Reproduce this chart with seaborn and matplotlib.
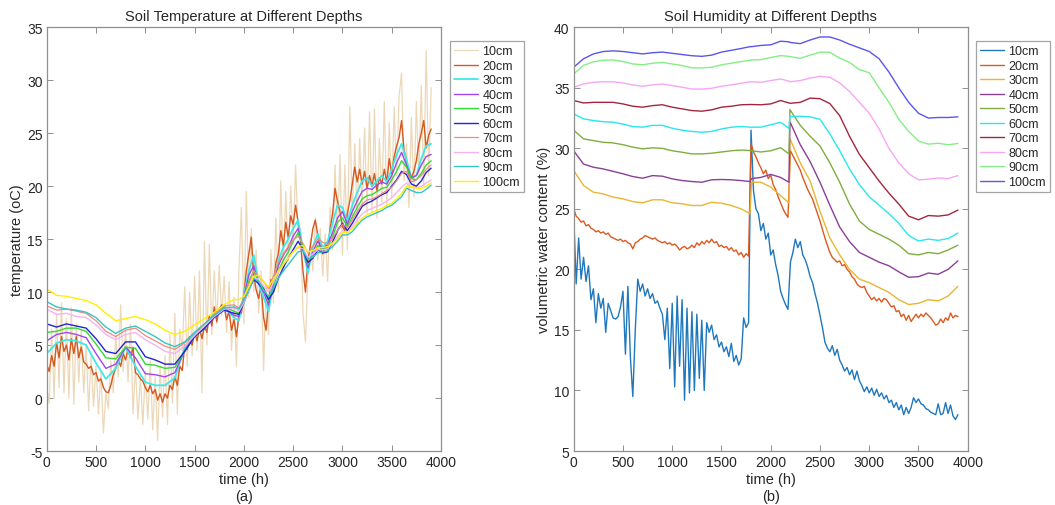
import numpy as np
import matplotlib
matplotlib.use("Agg")
import matplotlib.pyplot as plt
import seaborn as sns

# ---------------------------------------------------------------- data
depths = ["10cm", "20cm", "30cm", "40cm", "50cm", "60cm", "70cm", "80cm", "90cm", "100cm"]

# sampling times (h)
t_fine = np.arange(0, 3901, 25)                       # shallow, noisy sensors
t_temp = np.concatenate([np.arange(0, 1900, 100), np.arange(1900, 3901, 50)])
t_hum = [0, 100, 200, 300, 400, 500, 600, 700, 800, 900, 1000, 1100, 1200, 1300,
         1400, 1500, 1600, 1700, 1790, 1805, 1900, 2000, 2100, 2185, 2195, 2300,
         2400, 2500, 2600, 2700, 2800, 2900, 3000, 3100, 3200, 3300, 3400, 3500,
         3600, 3700, 3800, 3900]

# soil temperature (oC)
temp_10 = [1.0, -0.5, 6.5, 0.0, 8.0, 1.0, 9.0, 0.5,
           7.5, 0.0, 8.5, -0.6, 7.0, 1.5, 6.5, 0.5,
           5.0, -1.2, 4.0, -0.8, 3.0, -1.5, 2.5, -3.3,
           0.5, -1.0, 3.5, 0.5, 6.0, 2.0, 8.8, 2.5,
           6.5, 1.5, 7.0, -1.5, 3.0, -2.0, 2.0, -2.5,
           2.5, -2.0, 3.5, -3.0, 2.0, -4.0, 3.0, -1.8,
           4.0, -2.5, 6.0, -0.5, 8.0, -1.5, 6.5, 4.5,
           10.5, 3.0, 10.0, 4.0, 11.5, 4.5, 12.0, 0.5,
           14.8, 5.0, 14.5, 6.0, 12.0, 7.0, 12.5, 7.8,
           11.5, 6.2, 11.0, 4.5, 9.5, 3.0, 12.0, 18.0,
           7.0, 19.5, 9.5, 16.0, 10.0, 14.0, 8.0, 12.0,
           2.6, 10.5, 6.0, 14.0, 9.0, 17.0, 10.0, 20.5,
           12.0, 19.5, 13.0, 20.0, 14.5, 22.0, 15.5, 16.0,
           8.0, 5.3, 11.5, 15.0, 12.0, 17.0, 13.0, 16.0,
           11.5, 15.5, 11.0, 18.0, 14.0, 22.0, 15.0, 23.0,
           13.5, 22.0, 14.0, 27.5, 17.0, 24.0, 16.5, 24.5,
           18.0, 25.5, 17.5, 27.0, 17.5, 27.3, 17.0, 24.5,
           18.5, 28.0, 18.0, 26.0, 19.0, 27.5, 21.0, 28.5,
           30.7, 20.5, 24.0, 18.0, 26.5, 19.0, 28.0, 21.0,
           29.5, 20.0, 32.8, 21.0, 29.3]
temp_20 = [3.2, 2.5, 4.0, 3.0, 5.2, 3.8, 5.8, 4.4,
           5.0, 3.6, 5.6, 4.2, 5.8, 3.8, 4.8, 3.4,
           3.2, 2.8, 3.0, 2.2, 2.4, 1.6, 1.8, 1.0,
           0.6, 0.5, 1.2, 2.2, 2.8, 3.6, 3.0, 4.2,
           3.6, 4.6, 3.8, 4.8, 2.4, 2.2, 1.8, 1.6,
           1.0, 0.6, 1.2, 0.4, 0.8, -0.2, 0.4, -0.4,
           0.4, 0.0, 1.2, 0.8, 2.0, 1.2, 3.0, 2.6,
           5.0, 4.6, 5.8, 5.0, 6.2, 5.4, 6.6, 5.6,
           6.8, 6.2, 7.8, 6.8, 8.6, 7.2, 8.4, 8.8,
           8.6, 7.4, 8.2, 6.4, 7.4, 5.8, 7.8, 8.0,
           9.8, 12.0, 13.6, 15.2, 11.6, 10.2, 9.4, 10.6,
           7.6, 6.4, 9.0, 11.2, 10.0, 12.8, 13.6, 15.8,
           14.4, 16.6, 15.2, 17.2, 16.4, 18.2, 16.6, 14.8,
           12.0, 10.0, 13.0, 14.4, 16.0, 16.8, 15.4, 14.2,
           13.6, 14.4, 14.0, 16.0, 17.4, 19.8, 18.6, 17.6,
           16.2, 15.8, 17.4, 18.6, 20.2, 21.8, 20.4, 21.6,
           20.2, 21.4, 19.8, 21.0, 20.0, 21.2, 19.6, 20.8,
           20.2, 21.6, 20.4, 22.6, 21.2, 22.8, 23.8, 24.6,
           26.2, 23.4, 22.4, 21.0, 20.8, 21.4, 22.4, 24.0,
           25.0, 26.2, 23.6, 24.8, 25.4]
temp_30 = [4.2, 5.2, 5.5, 5.4, 5.0, 3.3, 1.8, 2.8, 4.8, 3.0, 1.5, 1.2, 1.2, 1.9, 4.8, 6.0, 6.6, 8.0, 8.6,
           7.6, 7.3, 9.8, 12.0, 13.5, 10.8, 9.5, 8.2, 10.8, 13.0, 14.2, 15.0, 16.0, 16.8, 14.0, 11.8,
           14.3, 15.5, 14.2, 14.8, 16.5, 18.2, 18.0, 16.6, 18.2, 19.4, 20.5, 20.8, 20.0, 20.5, 21.0,
           20.4, 21.6, 23.0, 24.0, 22.5, 20.8, 21.0, 22.6, 23.8, 24.0]
temp_40 = [5.4, 6.0, 6.2, 6.0, 5.7, 4.2, 2.8, 3.2, 4.8, 3.8, 2.3, 2.2, 2.0, 2.4, 4.5, 5.9, 6.5, 7.8, 8.5,
           7.8, 7.7, 9.5, 11.6, 12.5, 10.8, 10.0, 8.8, 10.8, 12.5, 13.5, 14.2, 15.3, 16.0, 14.0, 12.3,
           13.8, 14.8, 14.0, 14.5, 15.6, 17.0, 17.6, 16.4, 17.6, 18.6, 19.5, 19.8, 19.7, 20.1, 20.4,
           20.2, 21.0, 22.2, 23.2, 22.0, 20.8, 21.0, 22.0, 22.8, 23.0]
temp_50 = [6.2, 6.3, 6.6, 6.6, 6.3, 5.1, 3.8, 3.7, 4.8, 4.7, 3.2, 3.1, 2.8, 2.9, 4.4, 5.8, 6.6, 7.8, 8.6,
           8.2, 8.0, 9.3, 11.0, 12.0, 11.0, 10.4, 9.2, 10.5, 12.0, 13.0, 13.8, 14.8, 15.6, 14.2, 12.6,
           13.5, 14.4, 14.0, 14.2, 15.2, 16.6, 17.0, 16.2, 17.1, 18.0, 18.8, 19.1, 19.2, 19.5, 19.8,
           19.9, 20.6, 21.4, 22.4, 21.8, 20.7, 20.6, 21.2, 22.0, 22.4]
temp_60 = [7.0, 6.7, 7.0, 6.8, 6.6, 5.6, 4.4, 4.2, 5.3, 5.3, 3.9, 3.6, 3.2, 3.2, 4.4, 5.8, 6.6, 7.6, 8.3,
           8.0, 7.9, 9.0, 10.2, 11.2, 10.8, 10.3, 9.3, 10.0, 11.3, 12.3, 13.2, 14.0, 14.8, 14.0, 12.8,
           13.2, 14.0, 13.7, 13.8, 14.7, 15.8, 16.5, 15.8, 16.5, 17.3, 18.1, 18.4, 18.6, 18.9, 19.2,
           19.4, 20.0, 20.6, 21.4, 21.1, 20.2, 20.0, 20.5, 21.3, 21.7]
temp_70 = [8.7, 8.3, 8.4, 8.2, 8.0, 7.3, 6.3, 5.8, 6.4, 6.6, 5.9, 5.4, 4.9, 4.6, 5.2, 6.1, 7.0, 7.9, 8.7,
           8.8, 8.5, 9.4, 10.8, 12.0, 11.5, 11.0, 10.3, 11.5, 12.8, 13.6, 14.3, 14.9, 15.3, 14.6, 13.7,
           14.3, 15.0, 14.7, 14.5, 15.1, 15.8, 16.4, 16.1, 16.8, 17.6, 18.3, 18.7, 18.8, 19.0, 19.3,
           19.6, 19.9, 20.5, 21.2, 21.4, 20.4, 20.6, 21.0, 21.6, 22.0]
temp_80 = [8.4, 7.9, 8.0, 7.7, 7.6, 6.9, 6.0, 5.5, 6.0, 6.2, 5.5, 5.0, 4.4, 4.2, 4.9, 5.9, 6.8, 7.7, 8.4,
           8.5, 8.2, 9.0, 10.2, 11.4, 11.2, 10.6, 10.0, 10.9, 11.9, 12.6, 13.2, 13.8, 14.2, 14.1, 13.3,
           13.6, 14.0, 14.0, 14.1, 14.6, 15.2, 15.8, 15.6, 16.2, 16.8, 17.4, 17.7, 17.9, 18.1, 18.3,
           18.6, 18.9, 19.4, 19.9, 20.3, 19.9, 19.8, 20.0, 20.3, 20.6]
temp_90 = [9.1, 8.6, 8.4, 8.3, 8.1, 7.6, 6.7, 6.1, 6.6, 6.8, 6.3, 5.8, 5.2, 4.85, 5.3, 6.2, 7.0, 7.8, 8.5,
           8.6, 8.4, 9.2, 10.2, 11.3, 11.0, 10.2, 9.6, 10.4, 11.3, 12.0, 12.6, 13.2, 13.8, 13.9, 13.1,
           13.3, 13.7, 13.8, 13.9, 14.3, 14.8, 15.4, 15.4, 15.7, 16.3, 16.8, 17.1, 17.3, 17.5, 17.7,
           18.0, 18.2, 18.6, 19.0, 19.8, 19.6, 19.4, 19.4, 19.7, 20.1]
temp_100 = [10.3, 9.7, 9.6, 9.4, 9.2, 8.8, 8.0, 7.3, 7.5, 7.7, 7.4, 7.0, 6.4, 6.0, 6.3, 6.9, 7.5, 8.1, 8.8,
            9.3, 9.3, 9.6, 10.5, 11.5, 11.6, 11.0, 10.5, 11.2, 12.0, 12.6, 13.2, 13.8, 14.3, 14.4, 13.8,
            13.9, 14.2, 14.2, 14.3, 14.6, 15.0, 15.7, 15.6, 16.0, 16.5, 17.0, 17.3, 17.5, 17.7, 17.9,
            18.2, 18.4, 18.8, 19.3, 20.0, 20.0, 19.8, 19.8, 20.0, 20.3]

# volumetric water content (%)
hum_10 = [24.5, 18.8, 22.6, 19.2, 21.0, 19.0, 20.3, 17.5,
          18.4, 15.6, 18.0, 16.8, 17.6, 14.8, 17.2, 16.6,
          16.0, 15.9, 16.1, 16.9, 18.2, 13.0, 18.6, 12.8,
          9.5, 15.0, 19.2, 18.2, 18.8, 17.8, 18.4, 17.6,
          18.0, 17.2, 17.4, 16.8, 16.3, 14.2, 16.8, 11.8,
          17.2, 10.3, 17.8, 12.0, 17.5, 9.2, 16.8, 9.8,
          16.5, 10.0, 16.3, 11.0, 15.8, 10.0, 15.6, 14.8,
          15.4, 14.2, 14.6, 13.6, 14.0, 13.2, 13.6, 12.8,
          13.9, 12.4, 12.9, 12.1, 12.6, 16.0, 15.2, 15.6,
          31.5, 26.5, 25.0, 24.6, 23.2, 23.8, 22.5, 23.0,
          21.2, 21.6, 20.4, 19.5, 18.2, 17.6, 17.1, 16.7,
          20.6, 21.4, 22.5, 21.8, 22.3, 21.2, 20.8, 20.2,
          19.4, 18.9, 18.0, 17.2, 16.2, 15.2, 14.0, 13.5,
          13.2, 13.7, 12.9, 13.4, 12.5, 12.1, 11.6, 11.9,
          11.3, 11.7, 10.9, 11.6, 10.8, 10.4, 9.9, 10.3,
          9.8, 10.2, 9.6, 10.1, 9.5, 9.8, 9.3, 9.6,
          9.0, 9.2, 8.6, 9.0, 8.4, 8.8, 8.0, 8.6,
          8.1, 8.6, 9.4, 9.0, 9.3, 8.9, 8.8, 8.5,
          8.4, 8.2, 8.1, 8.0, 8.9, 8.0, 8.1, 9.0,
          8.1, 8.8, 7.9, 7.6, 8.0]
hum_20 = [25.0, 24.4, 24.2, 23.9, 24.0, 23.6, 23.7, 23.4,
          23.3, 23.1, 23.2, 23.0, 23.1, 22.9, 23.0, 22.7,
          22.6, 22.5, 22.4, 22.5, 22.3, 22.4, 22.2, 22.1,
          21.7, 22.2, 22.3, 22.5, 22.6, 22.8, 22.7, 22.6,
          22.5, 22.6, 22.4, 22.3, 22.2, 22.3, 22.1, 22.2,
          22.0, 22.1, 21.9, 21.6, 21.8, 21.9, 21.7, 21.8,
          22.0, 21.8, 22.2, 22.0, 22.3, 22.1, 22.4, 22.2,
          22.5, 22.2, 22.3, 21.9, 22.0, 21.8, 21.9, 21.6,
          21.8, 21.5, 21.6, 21.2, 21.4, 21.0, 21.3, 21.1,
          30.4, 29.7, 29.3, 28.8, 28.4, 27.9, 28.2, 27.5,
          27.8, 27.0, 26.6, 26.0, 25.5, 25.0, 24.6, 24.3,
          29.8, 29.4, 29.0, 28.6, 28.2, 27.6, 27.1, 26.6,
          26.2, 25.8, 25.2, 24.6, 24.0, 23.3, 22.6, 22.0,
          21.4, 21.0, 20.8, 20.6, 20.7, 20.3, 20.4, 20.0,
          19.8, 19.4, 19.2, 18.8, 18.6, 18.5, 18.6, 18.1,
          17.8, 17.5, 17.7, 17.4, 17.6, 17.3, 17.6, 17.5,
          17.2, 16.9, 17.0, 16.5, 16.6, 16.1, 16.3, 15.8,
          16.2, 15.7, 16.0, 16.3, 16.0, 16.3, 16.1, 16.4,
          16.2, 16.0, 15.7, 15.4, 15.5, 15.9, 15.6, 16.0,
          15.8, 16.4, 16.0, 16.2, 16.1]
hum_30 = [28.17, 26.93, 26.38, 26.24, 25.97, 25.83, 25.6, 25.5, 25.75, 25.75, 25.5, 25.42, 25.28, 25.28,
          25.55, 25.47, 25.28, 25.0, 24.6, 27.2, 27.2, 26.8, 26.1, 25.5, 30.8, 28.8,
          27.3, 24.8, 22.6, 21.2, 20.0, 19.2, 18.9, 18.5, 18.1, 17.5, 17.1, 17.2, 17.5, 17.4, 17.8, 18.6]
hum_40 = [29.8, 28.7, 28.44, 28.3, 28.1, 27.9, 27.67, 27.53, 27.75, 27.7, 27.48, 27.34, 27.26, 27.2,
          27.4, 27.43, 27.4, 27.34, 27.26, 27.5, 27.6, 27.85, 27.6, 27.2, 32.2, 30.3,
          28.9, 27.2, 25.3, 23.5, 22.3, 21.4, 21.0, 20.6, 20.3, 19.8, 19.35, 19.4, 19.7, 19.6, 20.0, 20.7]
hum_50 = [31.5, 30.78, 30.64, 30.5, 30.45, 30.3, 30.1, 29.96, 30.04, 30.0, 29.8, 29.68, 29.54, 29.54,
          29.6, 29.7, 29.8, 29.86, 29.82, 29.8, 29.7, 29.8, 30.05, 29.55, 33.2, 31.9,
          31.0, 30.2, 28.8, 27.2, 25.4, 24.0, 23.3, 22.9, 22.5, 22.0, 21.3, 21.2, 21.4, 21.3, 21.6, 22.0]
hum_60 = [32.85, 32.43, 32.3, 32.2, 32.16, 32.0, 31.8, 31.75, 31.9, 31.9, 31.66, 31.5, 31.4, 31.33,
          31.4, 31.6, 31.75, 31.8, 31.75, 31.75, 31.75, 31.95, 32.15, 31.65, 32.65, 32.65,
          32.6, 32.4, 31.2, 29.8, 28.3, 27.0, 26.0, 25.3, 24.6, 23.8, 22.8, 22.35, 22.5, 22.4, 22.55, 23.0]
hum_70 = [33.95, 33.75, 33.8, 33.8, 33.8, 33.67, 33.48, 33.4, 33.53, 33.6, 33.4, 33.26, 33.12, 33.07,
          33.18, 33.4, 33.48, 33.6, 33.62, 33.62, 33.6, 33.67, 33.95, 33.75, 33.72, 33.8,
          34.15, 34.1, 33.7, 32.7, 31.0, 29.5, 28.4, 27.3, 26.3, 25.4, 24.4, 24.1, 24.45, 24.4, 24.5, 24.9]
hum_80 = [35.05, 35.32, 35.46, 35.5, 35.5, 35.4, 35.24, 35.13, 35.24, 35.32, 35.18, 35.05, 34.9, 34.9,
          34.96, 35.13, 35.24, 35.38, 35.5, 35.5, 35.46, 35.6, 35.73, 35.55, 35.5, 35.6,
          35.8, 35.95, 35.87, 35.4, 34.7, 33.8, 32.9, 31.6, 30.0, 28.8, 27.9, 27.4, 27.45, 27.55, 27.5, 27.75]
hum_90 = [36.15, 36.85, 37.15, 37.28, 37.3, 37.17, 36.97, 36.9, 37.03, 37.1, 36.97, 36.84, 36.65, 36.64,
          36.7, 36.9, 37.03, 37.17, 37.28, 37.3, 37.33, 37.5, 37.66, 37.6, 37.58, 37.44,
          37.7, 37.94, 37.94, 37.45, 37.1, 36.5, 36.25, 35.0, 33.8, 32.4, 31.4, 30.6, 30.35, 30.42, 30.3, 30.4]
hum_100 = [36.7, 37.4, 37.8, 38.0, 38.05, 38.0, 37.9, 37.8, 37.9, 37.95, 37.85, 37.75, 37.65, 37.6,
           37.7, 37.95, 38.1, 38.25, 38.4, 38.4, 38.5, 38.55, 38.85, 38.8, 38.75, 38.65,
           38.95, 39.2, 39.2, 38.95, 38.6, 38.3, 38.0, 37.4, 36.3, 35.0, 33.8, 32.9, 32.5, 32.55, 32.55, 32.6]

temp_series = [(t_fine, temp_10), (t_fine, temp_20), (t_temp, temp_30), (t_temp, temp_40),
               (t_temp, temp_50), (t_temp, temp_60), (t_temp, temp_70), (t_temp, temp_80),
               (t_temp, temp_90), (t_temp, temp_100)]
hum_series = [(t_fine, hum_10), (t_fine, hum_20), (t_hum, hum_30), (t_hum, hum_40),
              (t_hum, hum_50), (t_hum, hum_60), (t_hum, hum_70), (t_hum, hum_80),
              (t_hum, hum_90), (t_hum, hum_100)]

temp_colors = ["#ecd8b8", "#d4581f", "#3fe8e8", "#a245f0", "#2fdc2f",
               "#2222d8", "#f08a80", "#f5b4f0", "#33c6c4", "#fff000"]
hum_colors = ["#1f78bd", "#db5a22", "#ebb531", "#8a3f99", "#7fae3f",
              "#2ae6ee", "#a3263d", "#f7a6f4", "#85ee85", "#5a55ee"]
temp_widths = [0.9, 1.0, 1.3, 1.0, 1.0, 1.0, 0.9, 1.0, 1.0, 1.0]

# ---------------------------------------------------------------- style
sns.set_theme(style="white")
plt.rcParams["font.family"] = ["Liberation Sans", "DejaVu Sans"]
plt.rcParams["axes.unicode_minus"] = False

frame = "#8f8f8f"
ink = "#262626"

fig = plt.figure(figsize=(10.55, 5.06), dpi=100)
fig.patch.set_facecolor("white")
ax1 = fig.add_axes([0.0443, 0.1067, 0.3737, 0.8374])
ax2 = fig.add_axes([0.5438, 0.1067, 0.3735, 0.8374])

for (tt, vv), name, col, lw in zip(temp_series, depths, temp_colors, temp_widths):
    sns.lineplot(x=np.asarray(tt), y=np.asarray(vv), ax=ax1, color=col, linewidth=lw,
                 label=name, estimator=None, sort=False)

for (tt, vv), name, col in zip(hum_series, depths, hum_colors):
    sns.lineplot(x=np.asarray(tt), y=np.asarray(vv), ax=ax2, color=col, linewidth=1.0,
                 label=name, estimator=None, sort=False)


def style_axes(ax, ylo, yhi, title, ylabel, tag, legend_x):
    ax.set_xlim(0, 4000)
    ax.set_ylim(ylo, yhi)
    ax.set_xticks(np.arange(0, 4001, 500))
    ax.set_yticks(np.arange(ylo, yhi + 1, 5))
    ax.set_title(title, fontsize=10.5, color=ink, pad=5)
    ax.set_xlabel("time (h)\n" + tag, fontsize=10.5, color=ink, labelpad=2, linespacing=1.25)
    ax.set_ylabel(ylabel, fontsize=10.5, color=ink, labelpad=2)
    ax.tick_params(direction="in", length=4, width=0.7, colors=frame, labelcolor=ink,
                   labelsize=10, top=True, right=True, bottom=True, left=True, pad=3)
    for sp in ax.spines.values():
        sp.set_color(frame)
        sp.set_linewidth(0.9)
    ax.set_facecolor("white")
    leg = ax.legend(loc="upper left", bbox_to_anchor=(legend_x, 1 - 42 / 506),
                    bbox_transform=fig.transFigure, fontsize=9, frameon=True,
                    fancybox=False, edgecolor=frame, borderpad=0.35, labelspacing=0.2,
                    handlelength=1.9, handletextpad=0.35, borderaxespad=0)
    leg.get_frame().set_linewidth(0.9)
    for txt in leg.get_texts():
        txt.set_color(ink)


style_axes(ax1, -5, 35, "Soil Temperature at Different Depths", "temperature (oC)", "(a)", 450 / 1055)
style_axes(ax2, 5, 40, "Soil Humidity at Different Depths", "volumetric water content (%)", "(b)", 976 / 1055)

fig.savefig("out.png", dpi=100, facecolor="white")
